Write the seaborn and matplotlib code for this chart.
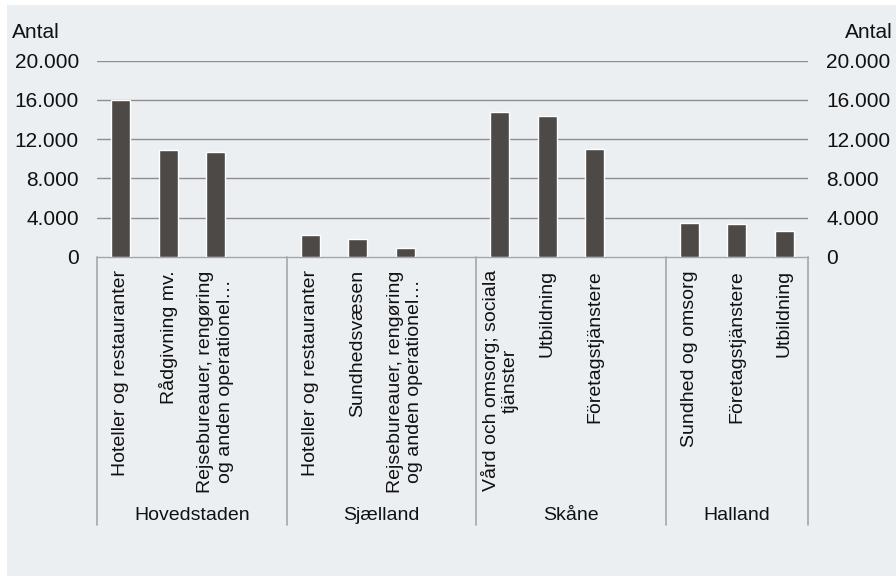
import textwrap
import matplotlib
matplotlib.use("Agg")
import matplotlib.pyplot as plt
import matplotlib.patches as mpatches
import matplotlib.transforms as mtransforms
from matplotlib.ticker import FuncFormatter
import pandas as pd
import seaborn as sns

# Regions and the top three industries in each
regions = ["Hovedstaden", "Sjælland", "Skåne", "Halland"]
industries = [
    ["Hoteller og restauranter", "Rådgivning mv.",
     "Rejsebureauer, rengøring og anden operationel…"],
    ["Hoteller og restauranter", "Sundhedsvæsen",
     "Rejsebureauer, rengøring og anden operationel…"],
    ["Vård och omsorg; sociala tjänster", "Utbildning", "Företagstjänstere"],
    ["Sundhed og omsorg", "Företagstjänstere", "Utbildning"],
]
values = [
    [16000, 10850, 10700],
    [2200, 1800, 950],
    [14800, 14400, 11000],
    [3500, 3350, 2650],
]
y_ticks = [0, 4000, 8000, 12000, 16000, 20000]
y_label = "Antal"

BAR = "#4d4946"
BG = "#eceff2"
GRID = "#8e8e8e"
EDGE = "#a6a6a6"
TXT = "#111111"

sns.set_theme(style="white")
plt.rcParams["font.family"] = ["Liberation Sans", "DejaVu Sans"]

# Build slot list: three bars per region, with an empty slot between regions
slot_keys, slot_labels, slot_vals, group_starts = [], [], [], []
for gi, (reg, inds, vals) in enumerate(zip(regions, industries, values)):
    group_starts.append(len(slot_keys) - 0.5)
    for ind, v in zip(inds, vals):
        slot_keys.append(f"{reg}|{ind}")
        slot_labels.append(textwrap.fill(ind, width=24))
        slot_vals.append(v)
    if gi < len(regions) - 1:
        slot_keys.append(f"gap{gi}")
        slot_labels.append("")
        slot_vals.append(float("nan"))

df = pd.DataFrame({"slot": slot_keys, "value": slot_vals})
n = len(slot_keys)

fig = plt.figure(figsize=(8.96, 5.76), dpi=100, facecolor="white")
fig.patches.append(mpatches.Rectangle((7 / 896, 0), 1 - 7 / 896, 1 - 5 / 576,
                                      transform=fig.transFigure,
                                      facecolor=BG, edgecolor="none",
                                      zorder=-10))

ax = fig.add_axes([97 / 896, 1 - 257 / 576, (808 - 97) / 896, (257 - 60.5) / 576])
ax.patch.set_alpha(0)

sns.barplot(data=df, x="slot", y="value", order=slot_keys, color=BAR,
            width=0.4, saturation=1, ax=ax, zorder=3)

ax.set_xlim(-0.5, n - 0.5)
ax.set_ylim(0, 20000)
ax.set_xlabel("")
ax.set_ylabel("")

for t in y_ticks[1:]:
    ax.axhline(t, color=GRID, lw=1.0, zorder=1)

for s in ["top", "left", "right"]:
    ax.spines[s].set_visible(False)
ax.spines["bottom"].set_color(EDGE)
ax.spines["bottom"].set_linewidth(1.0)

fmt = FuncFormatter(lambda v, p: f"{v:,.0f}".replace(",", "."))
ax.set_yticks(y_ticks)
ax.yaxis.set_major_formatter(fmt)
ax.tick_params(axis="y", which="both", length=0, left=False, right=False,
               labelleft=True, labelright=True, labelsize=15, pad=13,
               colors=TXT)

ax.set_xticks(range(n))
ax.set_xticklabels(slot_labels, rotation=90, ha="center", va="top",
                   multialignment="center", fontsize=14, color=TXT)
ax.tick_params(axis="x", bottom=False, length=0, pad=9.5)

# Region separators and region names below the category labels
trans = mtransforms.blended_transform_factory(ax.transData, ax.transAxes)
sep_bottom = -(525 - 257) / (257 - 60.5)
name_y = -(515 - 257) / (257 - 60.5)
edges = group_starts + [n - 0.5]
for xe in edges:
    ax.plot([xe, xe], [0, sep_bottom], transform=trans, color=EDGE, lw=1.2,
            clip_on=False, zorder=2)
for i, reg in enumerate(regions):
    ax.text((edges[i] + edges[i + 1]) / 2, name_y, reg, transform=trans,
            ha="center", va="center", fontsize=14, color=TXT)

# Axis unit labels on both sides
fig.text(12 / 896, 1 - 32 / 576, y_label, ha="left", va="center",
         fontsize=15, color=TXT)
fig.text(893 / 896, 1 - 32 / 576, y_label, ha="right", va="center",
         fontsize=15, color=TXT)

fig.savefig("out.png", dpi=100, facecolor="white")
